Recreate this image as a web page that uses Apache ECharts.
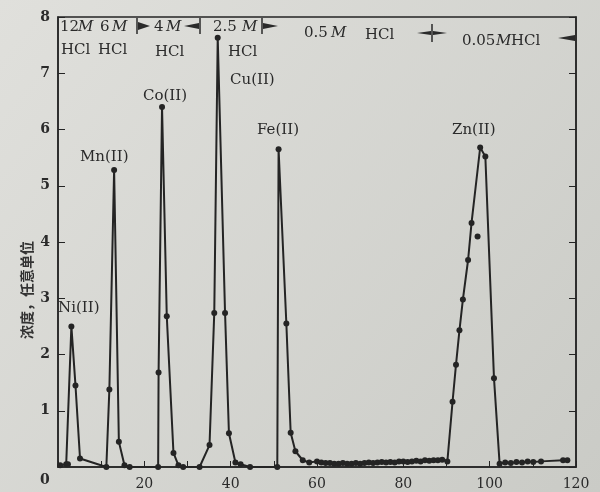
<!DOCTYPE html>
<html>
<head>
<meta charset="utf-8">
<script src="https://cdn.jsdelivr.net/npm/echarts@6/dist/echarts.min.js"></script>
<style>html,body{margin:0;padding:0;}#c{width:600px;height:492px;}</style>
</head>
<body>
<div id="c"></div>
<script>
// elution volume (x) vs concentration, arbitrary units (y)
const niPts = [[0.5,0.03],[1.9,0.05],[2.3,0.05],[3.1,2.5],[4.05,1.45],[5.1,0.15]];
const mnPts = [[11.2,0.0],[11.9,1.38],[13.0,5.28],[14.1,0.45],[15.4,0.03],[16.6,0.0]];
const coPts = [[23.2,0.0],[23.3,1.68],[24.1,6.4],[25.2,2.68],[26.75,0.25],[27.9,0.03],[29.0,0.0]];
const cuPts = [[32.8,0.0],[35.1,0.39],[36.2,2.74],[37.0,7.63],[38.7,2.74],[39.6,0.6],[41.1,0.08],[42.3,0.05],[44.5,0.0]];
const fePts = [[50.8,0.0],[51.1,5.65],[52.9,2.55],[53.9,0.61],[55.0,0.28],[56.7,0.12],[58.2,0.08]];
const tailPts = [[60,0.1],[61,0.08],[62,0.07],[63,0.07],[64,0.06],[65,0.06],[66,0.07],[67,0.06],[68,0.06],[69,0.07],
  [70,0.06],[71,0.07],[72,0.08],[73,0.07],[74,0.08],[75,0.09],[76,0.08],[77,0.09],[78,0.08],[79,0.1],
  [80,0.1],[81,0.09],[82,0.1],[83,0.11],[84,0.1],[85,0.12],[86,0.11],[87,0.12],[88,0.12],[89,0.13]];
const znPts = [[90.2,0.1],[91.4,1.16],[92.2,1.82],[93.0,2.43],[93.8,2.98],[95.0,3.68],[95.8,4.34],[97.8,5.68],[99.0,5.52],
  [101.0,1.58],[102.3,0.06],[103.6,0.08],[104.9,0.07],[106.2,0.09],[107.5,0.08],[108.8,0.1],[110.1,0.09],[111.9,0.1],[117.0,0.12],[118.0,0.12]];
const strayPts = [[97.2,4.10]];
const yTicks = [0,1,2,3,4,5,6,7,8];
const xTicks = [0,20,40,60,80,100,120];

const chart = echarts.init(document.getElementById('c'), null, {renderer:'canvas'});
const ink = '#242424';
const serif = 'DejaVu Serif';
const all = [].concat(niPts, mnPts, coPts, cuPts, fePts, tailPts, znPts);

function txt(x, y, s, extra) {
  return Object.assign({type:'text', x:x, y:y, style:Object.assign({text:s, fill:'#2a2a2a', font:'15px "' + serif + '"', textVerticalAlign:'middle'}, extra||{})});
}
function tri(points) { return {type:'polygon', shape:{points:points}, style:{fill:'#2a2a2a'}}; }
function vline(x, y1, y2) { return {type:'line', shape:{x1:x,y1:y1,x2:x,y2:y2}, style:{stroke:'#2a2a2a', lineWidth:1.5}}; }

chart.setOption({
  backgroundColor: new echarts.graphic.LinearGradient(0,0,1,1,[{offset:0,color:'#e0e0dc'},{offset:1,color:'#cacbc6'}]),
  animation:false,
  grid:{left:58, right:24, top:17, bottom:25, show:true, borderColor:ink, borderWidth:1.5},
  xAxis:{type:'value', min:xTicks[0], max:xTicks[xTicks.length-1], interval:20,
    axisLine:{lineStyle:{color:ink, width:1.5}},
    axisTick:{inside:true, length:6, lineStyle:{color:ink}},
    minorTick:{show:true, splitNumber:2, length:6, lineStyle:{color:ink}},
    splitLine:{show:false},
    axisLabel:{showMinLabel:false, color:'#2a2a2a', fontFamily:serif, fontSize:14, margin:10}},
  yAxis:[{type:'value', min:yTicks[0], max:yTicks[yTicks.length-1], interval:1,
    axisLine:{show:true, lineStyle:{color:ink, width:1.5}},
    axisTick:{inside:true, length:7, lineStyle:{color:ink}},
    splitLine:{show:false},
    axisLabel:{showMinLabel:false, color:'#2a2a2a', fontFamily:serif, fontWeight:'bold', fontSize:14, margin:8}},
   {type:'value', position:'right', min:yTicks[0], max:yTicks[yTicks.length-1], interval:1,
    axisLine:{show:true, lineStyle:{color:ink, width:1.5}},
    axisTick:{inside:true, length:7, lineStyle:{color:ink}},
    splitLine:{show:false}, axisLabel:{show:false}}],
  series:[
    {type:'line', data:all, symbol:'circle', symbolSize:6, showSymbol:true,
     itemStyle:{color:ink}, lineStyle:{color:ink, width:2}},
    {type:'scatter', data:strayPts, symbol:'circle', symbolSize:6, itemStyle:{color:ink, opacity:1}}
  ],
  graphic:[
    txt(40, 480, '0', {font:'bold 14px "' + serif + '"'}),
    {type:'text', x:27, y:290, rotation:Math.PI/2, style:{text:'浓度，任意单位', fill:'#333', font:'bold 14px "Noto Sans CJK SC"', textAlign:'center', textVerticalAlign:'middle'}},
    // element labels
    txt(58, 308, 'Ni(II)'), txt(80, 157, 'Mn(II)'), txt(143, 96, 'Co(II)'),
    txt(230, 80, 'Cu(II)'), txt(257, 130, 'Fe(II)'), txt(452, 130, 'Zn(II)'),
    // eluent labels, row 1
    txt(60, 27, '12'), txt(78, 27, 'M', {font:'italic 15px "' + serif + '"'}),
    txt(100, 27, '6'), txt(112, 27, 'M', {font:'italic 15px "' + serif + '"'}),
    txt(154, 27, '4'), txt(166, 27, 'M', {font:'italic 15px "' + serif + '"'}),
    txt(213, 27, '2.5'), txt(242, 27, 'M', {font:'italic 15px "' + serif + '"'}),
    txt(304, 33, '0.5'), txt(331, 33, 'M', {font:'italic 15px "' + serif + '"'}),
    txt(365, 35, 'HCl'),
    txt(462, 41, '0.05'), txt(496, 41, 'M', {font:'italic 15px "' + serif + '"'}), txt(511, 41, 'HCl'),
    // row 2
    txt(61, 50, 'HCl'), txt(98, 50, 'HCl'), txt(155, 52, 'HCl'), txt(228, 52, 'HCl'),
    // boundary markers
    vline(137, 18, 34), tri([[138,22],[150,26],[138,30]]),
    vline(200, 18, 34), tri([[199,23],[184,26],[199,29]]),
    vline(262, 18, 34), tri([[263,23],[278,26],[263,29]]),
    vline(432, 24, 42), tri([[431,31],[417,33],[431,35]]), tri([[433,31],[447,33],[433,35]]),
    tri([[575,35],[558,38],[575,41]])
  ]
});
</script>
</body>
</html>
